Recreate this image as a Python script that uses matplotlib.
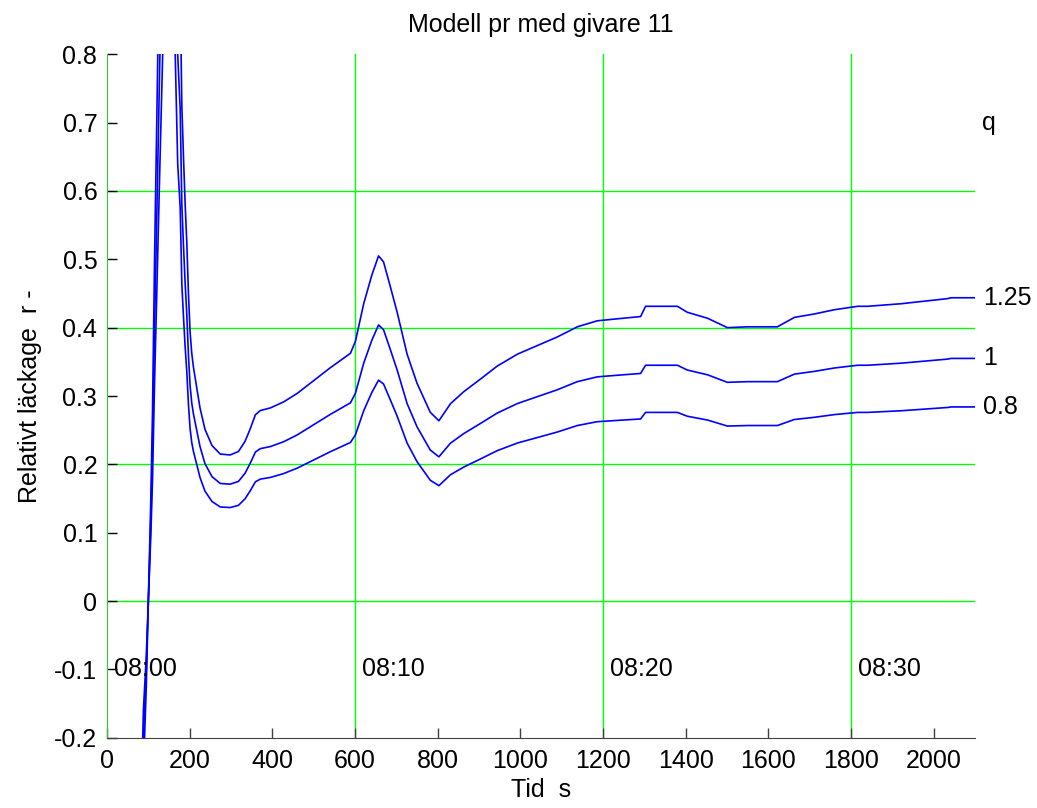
import matplotlib
matplotlib.use('Agg')
import matplotlib.pyplot as plt

plt.rcParams['font.family'] = ['Liberation Sans', 'DejaVu Sans']
plt.rcParams['axes.unicode_minus'] = False

# base curve (q = 1)
tid = [80, 88, 95, 100, 106, 110, 115, 120, 128, 138, 148, 158, 165, 171, 177,
       181, 185, 189, 193, 197, 201, 205, 209, 217, 225, 237, 254, 274, 298,
       318, 334, 346, 359, 371, 395, 427, 460, 492, 540, 589, 601, 621, 641,
       657, 669, 686, 702, 726, 750, 782, 803, 831, 863, 904, 944, 993, 1041,
       1089, 1138, 1186, 1227, 1291, 1303, 1332, 1380, 1404, 1453, 1501, 1550,
       1622, 1663, 1711, 1760, 1816, 1840, 1921, 2034, 2042, 2099]
r_bas = [-0.45, -0.20, -0.10, 0.0, 0.12, 0.22, 0.40, 0.55, 0.80, 1.10, 1.30,
         1.15, 1.0, 0.80, 0.72, 0.58, 0.52, 0.465, 0.42, 0.36, 0.315, 0.29,
         0.274, 0.250, 0.226, 0.201, 0.182, 0.172, 0.171, 0.175, 0.187, 0.201,
         0.218, 0.223, 0.226, 0.233, 0.243, 0.255, 0.273, 0.290, 0.304, 0.348,
         0.382, 0.404, 0.397, 0.367, 0.338, 0.289, 0.255, 0.221, 0.211, 0.231,
         0.245, 0.260, 0.275, 0.289, 0.299, 0.309, 0.321, 0.328, 0.330, 0.333,
         0.345, 0.345, 0.345, 0.338, 0.331, 0.320, 0.321, 0.321, 0.332, 0.336,
         0.341, 0.345, 0.345, 0.348, 0.354, 0.355, 0.355]

q_varden = [1.25, 1, 0.8]
q_text = ['1.25', '1', '0.8']

klock_t = [0, 600, 1200, 1800]
klock_text = ['08:00', '08:10', '08:20', '08:30']

grid_x = [600, 1200, 1800]
grid_y = [0, 0.2, 0.4, 0.6]

fig = plt.figure(figsize=(10.37, 8.08), dpi=100)
ax = fig.add_axes([0.1032, 0.087, 0.837, 0.8458])

for gx in grid_x:
    ax.axvline(gx, color='#00ff00', lw=1, zorder=1)
for gy in grid_y:
    ax.axhline(gy, color='#00ff00', lw=1, zorder=1)

for q, lab in zip(q_varden, q_text):
    r = [q * v for v in r_bas]
    ax.plot(tid, r, color='#0000ff', lw=1.2, zorder=2)
    ax.text(2120, r[-1], lab, fontsize=18, va='center', ha='left', clip_on=False)

ax.text(2118, 0.7, 'q', fontsize=18, va='center', ha='left', clip_on=False)

for t, s in zip(klock_t, klock_text):
    ax.text(t + 18, -0.1, s, fontsize=18, va='center', ha='left')

ax.set_xlim(0, 2100)
ax.set_ylim(-0.2, 0.8)
ax.set_xticks(range(0, 2001, 200))
yt = [round(-0.2 + 0.1 * i, 1) for i in range(11)]
ax.set_yticks(yt)
ax.set_yticklabels(['0' if v == 0 else ('%g' % v) for v in yt])

ax.spines['top'].set_visible(False)
ax.spines['right'].set_visible(False)
ax.spines['left'].set_color('#2ecc2e')
ax.spines['bottom'].set_color('#404040')
ax.tick_params(direction='in', length=7, width=1, labelsize=18)
ax.tick_params(axis='x', colors='#404040', labelcolor='black', pad=8)
ax.tick_params(axis='y', colors='black', pad=7)

ax.set_title('Modell pr med givare 11', fontsize=18, pad=16)
ax.set_xlabel('Tid  s', fontsize=18, labelpad=4)
ax.set_ylabel('Relativt läckage  r -', fontsize=18, labelpad=9)

plt.savefig('out.png', dpi=100)
